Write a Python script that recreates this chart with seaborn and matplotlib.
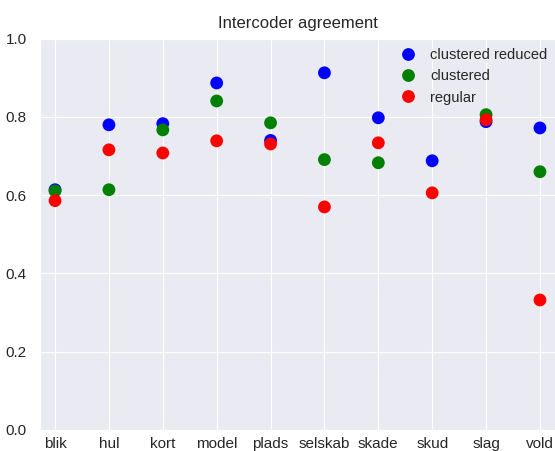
import pandas as pd
import matplotlib
matplotlib.use('Agg')
import matplotlib.pyplot as plt
import seaborn as sns

# categorias e valores
words = ['blik', 'hul', 'kort', 'model', 'plads', 'selskab', 'skade', 'skud', 'slag', 'vold']
clustered_reduced = [0.614, 0.780, 0.783, 0.887, 0.740, 0.913, 0.798, 0.688, 0.788, 0.772]
clustered = [0.611, 0.614, 0.767, 0.841, 0.785, 0.691, 0.683, None, 0.806, 0.660]
regular = [0.586, 0.716, 0.708, 0.739, 0.731, 0.570, 0.734, 0.606, 0.793, 0.332]

series = {'clustered reduced': clustered_reduced, 'clustered': clustered, 'regular': regular}
rows = []
for name, vals in series.items():
    for i, v in enumerate(vals):
        if v is not None:
            rows.append({'pos': i, 'score': v, 'method': name})
df = pd.DataFrame(rows)

sns.set_style('darkgrid')
plt.rcParams['font.family'] = ['Liberation Sans', 'DejaVu Sans']

fig = plt.figure(figsize=(5.55, 4.51), dpi=100)
ax = fig.add_axes([0.072, 0.047, 0.93, 0.867])

cores = {'clustered reduced': 'blue', 'clustered': 'green', 'regular': 'red'}
sns.scatterplot(data=df, x='pos', y='score', hue='method', palette=cores,
                s=85, edgecolor='none', ax=ax, zorder=3)

ax.set_xlim(-0.28, 9.3)
ax.set_ylim(0, 1.0)
ax.set_xticks(range(len(words)))
ax.set_xticklabels(words, fontsize=11)
ax.set_yticks([0.0, 0.2, 0.4, 0.6, 0.8, 1.0])
ax.tick_params(axis='y', labelsize=11, pad=6, colors='#262626')
ax.tick_params(axis='x', pad=2, colors='#262626')
ax.set_xlabel('')
ax.set_ylabel('')
ax.set_title('Intercoder agreement', fontsize=12, color='#262626', pad=8)

handles, labels = ax.get_legend_handles_labels()
ax.legend(handles, labels, loc='upper left', bbox_to_anchor=(0.66, 1.01),
          frameon=False, fontsize=10.5, markerscale=1.0, handletextpad=0.5)

fig.savefig('out.png', dpi=100)
